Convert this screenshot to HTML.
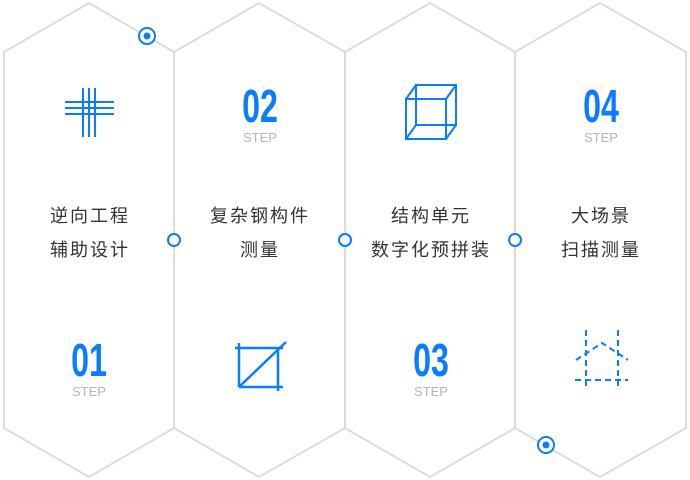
<!DOCTYPE html>
<html><head><meta charset="utf-8"><style>
html,body{margin:0;padding:0;background:#fff;}
svg{display:block;}
.t{font-family:"Liberation Sans","Noto Sans CJK SC",sans-serif;font-size:18px;fill:#333;letter-spacing:2px;text-anchor:middle;}
.n{font-family:"Liberation Sans",sans-serif;font-weight:bold;font-size:46px;fill:#0a7cff;text-anchor:middle;}
.s{font-family:"Liberation Sans",sans-serif;font-size:13px;fill:#b5b5b5;text-anchor:middle;}
</style></head><body>
<svg width="690" height="480" viewBox="0 0 690 480">
<g fill="none" stroke="#dcdcdc" stroke-width="2">
<polygon points="4,52 89,3 174,52 174,428 89,477 4,428"/>
<polygon points="174,52 259,3 345,52 345,428 259,477 174,428"/>
<polygon points="345,52 430,3 515,52 515,428 430,477 345,428"/>
<polygon points="515,52 600,3 686,52 686,428 600,477 515,428"/>
</g>
<g stroke="#0a7cff" stroke-width="2" fill="#fff">
<circle cx="174" cy="240" r="6"/><circle cx="345" cy="240" r="6"/><circle cx="515" cy="240" r="6"/>
<circle cx="147" cy="36" r="8"/><circle cx="546" cy="445" r="8"/>
</g>
<circle cx="147" cy="36" r="3.5" fill="#0a7cff"/><circle cx="546" cy="445" r="3.5" fill="#0a7cff"/>
<!-- grid icon -->
<g stroke="#0a7cff" stroke-width="2">
<line x1="65" y1="102" x2="114" y2="102"/><line x1="65" y1="108" x2="114" y2="108"/><line x1="65" y1="114" x2="114" y2="114"/>
<line x1="83" y1="88" x2="83" y2="137"/><line x1="89" y1="88" x2="89" y2="137"/><line x1="95" y1="88" x2="95" y2="137"/>
</g>
<!-- cube -->
<g stroke="#0a7cff" stroke-width="2" fill="none">
<rect x="406" y="99" width="40" height="40"/><rect x="416" y="85" width="40" height="40"/>
<line x1="406" y1="99" x2="416" y2="85"/><line x1="446" y1="99" x2="456" y2="85"/><line x1="406" y1="139" x2="416" y2="125"/><line x1="446" y1="139" x2="456" y2="125"/>
</g>
<!-- square icon -->
<g stroke="#0a7cff" stroke-width="2.5" fill="none">
<line x1="235" y1="348" x2="283" y2="348"/><line x1="239" y1="387" x2="283" y2="387"/>
<line x1="239" y1="343" x2="239" y2="387"/><line x1="278" y1="348" x2="278" y2="391"/>
<line x1="239" y1="387" x2="286" y2="342"/>
</g>
<!-- house dashed -->
<g stroke="#0a7cff" stroke-width="2" fill="none" stroke-dasharray="6,4">
<line x1="586" y1="330" x2="586" y2="386"/><line x1="618" y1="330" x2="618" y2="386"/>
<line x1="575" y1="380" x2="628" y2="380"/>
<polyline points="576,360 602,343 628,360"/>
</g>
<text class="n" transform="translate(89,376) scale(0.7,1)">01</text>
<text class="s" x="89" y="396">STEP</text>
<text class="n" transform="translate(260,122) scale(0.7,1)">02</text>
<text class="s" x="260" y="142">STEP</text>
<text class="n" transform="translate(431,376) scale(0.7,1)">03</text>
<text class="s" x="431" y="396">STEP</text>
<text class="n" transform="translate(601,122) scale(0.7,1)">04</text>
<text class="s" x="601" y="142">STEP</text>
<text class="t" x="90" y="222">逆向工程</text><text class="t" x="90" y="256">辅助设计</text>
<text class="t" x="260" y="222">复杂钢构件</text><text class="t" x="260" y="256">测量</text>
<text class="t" x="431" y="222">结构单元</text><text class="t" x="431" y="256">数字化预拼装</text>
<text class="t" x="601" y="222">大场景</text><text class="t" x="601" y="256">扫描测量</text>
</svg>
</body></html>
